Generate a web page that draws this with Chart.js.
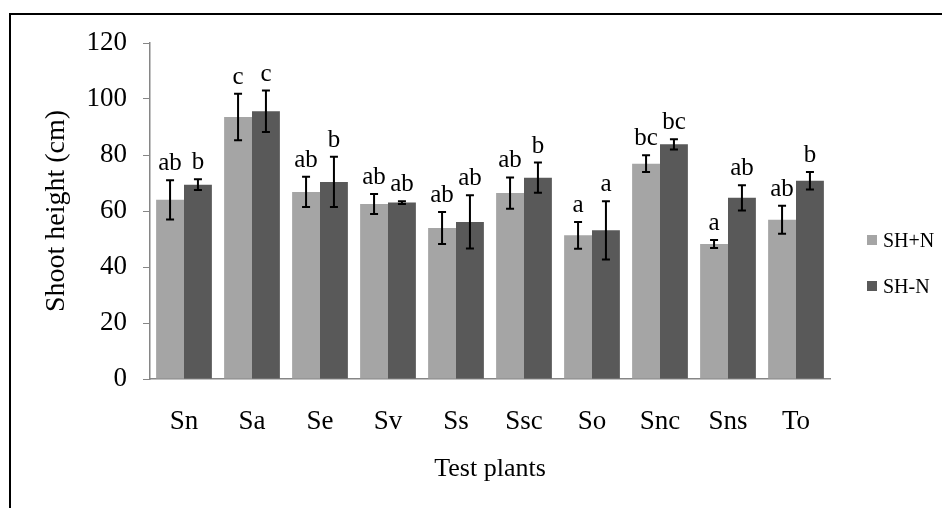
<!DOCTYPE html>
<html>
<head>
<meta charset="utf-8">
<script src="https://cdn.jsdelivr.net/npm/chart.js@4.4.1/dist/chart.umd.min.js"></script>
<style>
  html, body { margin: 0; padding: 0; background: #fff; }
  #wrap { position: relative; width: 942px; height: 508px; overflow: hidden; }
  #frame { position: absolute; left: 9px; top: 13px; width: 1000px; height: 600px; border: 2px solid #000; box-sizing: border-box; }
  #myChart { position: absolute; left: 0; top: 0; }
  .key { position: absolute; left: 867px; font: 20px "Liberation Serif", "Times New Roman", serif; color: #000; }
  .key span { display: inline-block; width: 10px; height: 10px; margin-right: 6px; vertical-align: middle; position: relative; top: -2px; }
</style>
</head>
<body>
<div id="wrap">
  <div id="frame"></div>
  <canvas id="myChart" width="942" height="508"></canvas>
  <div class="key" style="top:229px"><span style="background:#a5a5a5"></span>SH+N</div>
  <div class="key" style="top:275px"><span style="background:#595959"></span>SH-N</div>
</div>
<script>
// 식물별 지상부 높이
const plants = ['Sn', 'Sa', 'Se', 'Sv', 'Ss', 'Ssc', 'So', 'Snc', 'Sns', 'To'];

const shPlusN = [64.0, 93.6, 66.8, 62.5, 53.9, 66.4, 51.3, 76.9, 48.2, 56.9];
const shPlusNErr = [7.0, 8.3, 5.4, 3.6, 5.7, 5.6, 4.8, 3.0, 1.4, 5.0];
const shPlusNSig = ['ab', 'c', 'ab', 'ab', 'ab', 'ab', 'a', 'bc', 'a', 'ab'];

const shMinusN = [69.4, 95.6, 70.4, 63.0, 56.1, 71.9, 53.1, 83.8, 64.7, 70.8];
const shMinusNErr = [1.9, 7.4, 9.0, 0.5, 9.5, 5.4, 10.4, 1.8, 4.5, 3.1];
const shMinusNSig = ['b', 'c', 'b', 'ab', 'ab', 'b', 'a', 'bc', 'ab', 'b'];

const yTicks = [0, 20, 40, 60, 80, 100, 120];

const serif = '"Liberation Serif", "Times New Roman", serif';

// 오차 막대와 유의성 문자 그리기
const errorBarPlugin = {
  id: 'errorBars',
  afterDatasetsDraw(chart) {
    const ctx = chart.ctx;
    const yScale = chart.scales.y;
    chart.data.datasets.forEach((ds, i) => {
      const meta = chart.getDatasetMeta(i);
      meta.data.forEach((bar, j) => {
        const v = ds.data[j];
        const e = ds.errors[j];
        const top = yScale.getPixelForValue(v + e);
        const bottom = yScale.getPixelForValue(v - e);
        ctx.save();
        ctx.strokeStyle = '#000';
        ctx.lineWidth = 2;
        ctx.beginPath();
        ctx.moveTo(bar.x, top);
        ctx.lineTo(bar.x, bottom);
        ctx.moveTo(bar.x - 4, top);
        ctx.lineTo(bar.x + 4, top);
        ctx.moveTo(bar.x - 4, bottom);
        ctx.lineTo(bar.x + 4, bottom);
        ctx.stroke();
        ctx.fillStyle = '#000';
        ctx.font = '25px ' + serif;
        ctx.textAlign = 'center';
        ctx.textBaseline = 'alphabetic';
        ctx.fillText(ds.letters[j], bar.x, top - 10);
        ctx.restore();
      });
    });
  }
};

const ctx = document.getElementById('myChart').getContext('2d');
const myChart = new Chart(ctx, {
  type: 'bar',
  data: {
    labels: plants,
    datasets: [
      {
        label: 'SH+N',
        data: shPlusN,
        errors: shPlusNErr,
        letters: shPlusNSig,
        backgroundColor: '#a5a5a5',
        barPercentage: 1,
        categoryPercentage: 0.82
      },
      {
        label: 'SH-N',
        data: shMinusN,
        errors: shMinusNErr,
        letters: shMinusNSig,
        backgroundColor: '#595959',
        barPercentage: 1,
        categoryPercentage: 0.82
      }
    ]
  },
  options: {
    responsive: false,
    animation: false,
    layout: { padding: { top: 43, right: 112, bottom: 0, left: 0 } },
    plugins: {
      legend: { display: false },
      tooltip: { enabled: false }
    },
    scales: {
      x: {
        afterFit(scale) { scale.height = 129; },
        grid: { display: false, drawTicks: false },
        border: { display: true, color: '#868686', width: 1.5 },
        ticks: { color: '#000', font: { family: serif, size: 27 }, padding: 27, maxRotation: 0 },
        title: { display: true, text: 'Test plants', color: '#000', font: { family: serif, size: 26 }, padding: { top: 0, bottom: 23 } }
      },
      y: {
        min: 0,
        max: 120,
        afterFit(scale) { scale.width = 150; },
        afterBuildTicks(scale) { scale.ticks = yTicks.map(v => ({ value: v })); },
        grid: { drawOnChartArea: false, drawTicks: true, tickLength: 7, color: '#868686' },
        border: { display: true, color: '#868686', width: 1.5 },
        ticks: { color: '#000', font: { family: serif, size: 27 }, padding: 16 },
        title: { display: true, text: 'Shoot height (cm)', color: '#000', font: { family: serif, size: 28 }, padding: { top: 40, bottom: 0 } }
      }
    }
  },
  plugins: [errorBarPlugin]
});
</script>
</body>
</html>
